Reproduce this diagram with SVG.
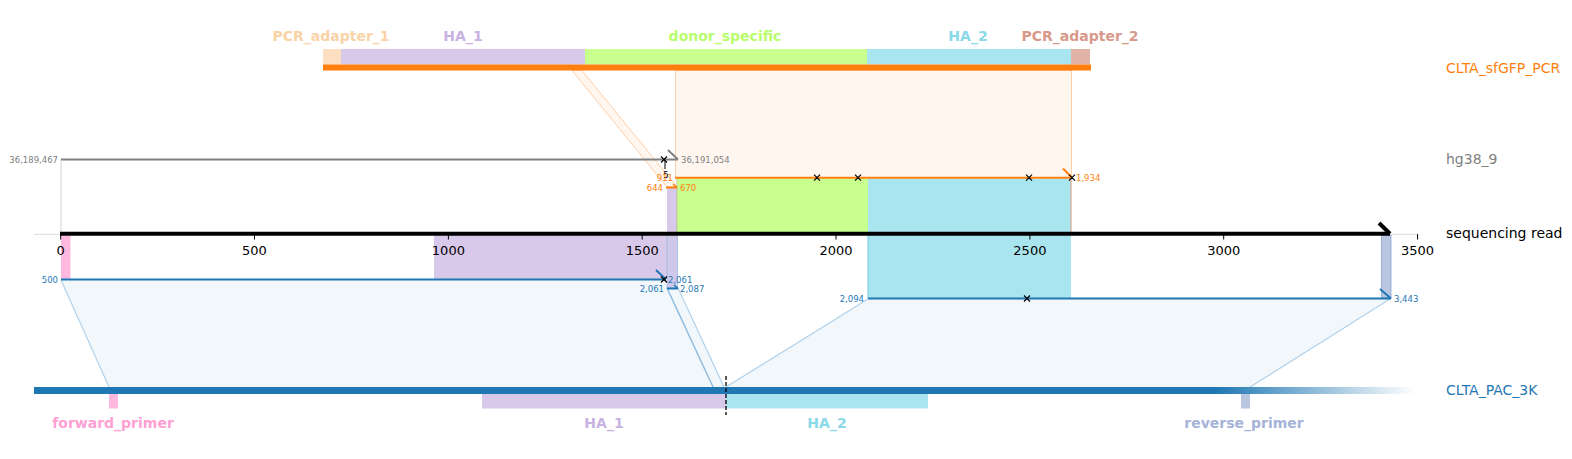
<svg xmlns="http://www.w3.org/2000/svg" width="1572" height="459" viewBox="0 0 1572 459">
<defs>
<style>
text{font-family:"DejaVu Sans","Liberation Sans",sans-serif}
.flab{font-size:14px;font-weight:bold;text-anchor:middle}
.rlab{font-size:14px}
.tick{font-size:13px;text-anchor:middle;fill:#000}
.sm{font-size:8.5px}
.xm{stroke:#000;stroke-width:1.2;fill:none}
.ofill{fill:#fff6ef;stroke:#ffcfa8;stroke-width:1}
.bfill{fill:#f2f7fb;stroke:none}
.bedge{stroke:#b2d2ea;stroke-width:1.2;fill:none}
</style>
<linearGradient id="fade" x1="34" y1="0" x2="1415" y2="0" gradientUnits="userSpaceOnUse">
<stop offset="0" stop-color="#1f77b4"/>
<stop offset="0.855" stop-color="#1f77b4"/>
<stop offset="1" stop-color="#1f77b4" stop-opacity="0"/>
</linearGradient>
</defs>
<rect width="1572" height="459" fill="#fff"/>

<g id="connectors">
<rect class="ofill" x="675.5" y="70.5" width="396" height="107"/>
<polygon class="ofill" points="572,70.5 582,70.5 677,187 667,187"/>
<polygon class="bfill" points="61,279.5 664,279.5 712,387 109,387"/>
<polygon class="bfill" points="667,288 678,288 724,387 713,387"/>
<polygon class="bfill" points="868,298.5 1390,298.5 1250,387 726,387"/>
<line class="bedge" x1="61" y1="280" x2="109" y2="387"/>
<line x1="667" y1="288" x2="713" y2="387" stroke="#8dbde0" stroke-width="1.5"/>
<line class="bedge" x1="678" y1="288" x2="724" y2="387"/>
<line class="bedge" x1="868" y1="299" x2="726" y2="387"/>
<line class="bedge" x1="1390" y1="299" x2="1250" y2="387"/>
<line x1="61" y1="159" x2="61" y2="233" stroke="#d4d4d4" stroke-width="1"/>
</g>

<g id="projected-features">
<rect x="677" y="178.5" width="191" height="54" fill="#c8ff8e"/>
<rect x="868" y="178.5" width="203" height="54" fill="#a9e5ef"/>
<rect x="667" y="188" width="10" height="44.5" fill="#d8c8ea"/>
<line x1="677" y1="178" x2="677" y2="233" stroke="#b9c98a" stroke-width="1"/>
<line x1="1071" y1="178" x2="1071" y2="233" stroke="#d9a890" stroke-width="1.2"/>
<rect x="61" y="235" width="9.5" height="44" fill="#ffb8de"/>
<rect x="434" y="235" width="233" height="44" fill="#d8c8ea"/>
<rect x="667" y="235" width="10.5" height="53" fill="#cfc8ea" stroke="#9ab8de" stroke-width="0.8"/>
<rect x="868" y="235" width="203" height="63" fill="#a9e5ef"/>
<line x1="868" y1="235" x2="868" y2="298" stroke="#7fc6e6" stroke-width="1"/>
<rect x="1381.5" y="235" width="9.5" height="63" fill="#bac5df" stroke="#8aa6d2" stroke-width="0.8"/>
</g>

<g id="CLTA_sfGFP_PCR">
<rect x="323" y="49" width="18" height="15.5" fill="#fbdfc0"/>
<rect x="341" y="49" width="244" height="15.5" fill="#d8c8ea"/>
<rect x="585" y="49" width="282" height="15.5" fill="#c8ff8e"/>
<rect x="867" y="49" width="204" height="15.5" fill="#a9e5ef"/>
<rect x="1071" y="49" width="19" height="15.5" fill="#e2b4a8"/>
<rect x="323" y="64.5" width="768" height="6" fill="#ff7f0e"/>
<text class="flab" x="331" y="41" fill="#f9d2a5">PCR_adapter_1</text>
<text class="flab" x="463" y="41" fill="#c8b2e2">HA_1</text>
<text class="flab" x="725" y="41" fill="#b8fd6c">donor_specific</text>
<text class="flab" x="968" y="41" fill="#8ad9e8">HA_2</text>
<text class="flab" x="1080" y="41" fill="#d8998a">PCR_adapter_2</text>
<text class="rlab" x="1446" y="73" fill="#ff7f0e">CLTA_sfGFP_PCR</text>
</g>

<g id="hg38_9">
<line x1="61" y1="159.5" x2="678" y2="159.5" stroke="#808080" stroke-width="2"/>
<line x1="668" y1="150" x2="678" y2="159.5" stroke="#808080" stroke-width="2"/>
<line x1="665" y1="159.5" x2="665" y2="169" stroke="#808080" stroke-width="2"/>
<path class="xm" d="M661,156.5 l6,6 M667,156.5 l-6,6"/>
<text class="sm" x="58" y="162.5" fill="#808080" text-anchor="end">36,189,467</text>
<text class="sm" x="681" y="162.5" fill="#808080">36,191,054</text>
<text class="sm" x="666" y="178" fill="#000" text-anchor="middle">5</text>
<text class="rlab" x="1446" y="164" fill="#808080">hg38_9</text>
</g>

<g id="alignment-sfGFP">
<line x1="675" y1="177.7" x2="1072" y2="177.7" stroke="#ff7f0e" stroke-width="2"/>
<line x1="1063" y1="168.5" x2="1072" y2="177.7" stroke="#ff7f0e" stroke-width="2"/>
<line x1="666" y1="187.5" x2="677" y2="187.5" stroke="#ff7f0e" stroke-width="2"/>
<line x1="673" y1="184" x2="677" y2="187.5" stroke="#ff7f0e" stroke-width="1.5"/>
<path class="xm" d="M814,174.7 l6,6 M820,174.7 l-6,6 M855,174.7 l6,6 M861,174.7 l-6,6 M1026,174.7 l6,6 M1032,174.7 l-6,6 M1069,174.7 l6,6 M1075,174.7 l-6,6"/>
<text class="sm" x="673" y="180.5" fill="#ff7f0e" text-anchor="end">911</text>
<text class="sm" x="663" y="190.5" fill="#ff7f0e" text-anchor="end">644</text>
<text class="sm" x="680" y="190.5" fill="#ff7f0e">670</text>
<text class="sm" x="1076" y="180.5" fill="#ff7f0e">1,934</text>
</g>

<g id="sequencing-read">
<line x1="34" y1="234.3" x2="1418" y2="234.3" stroke="#dcdcdc" stroke-width="1"/>
<line x1="60" y1="233.7" x2="1390" y2="233.7" stroke="#000" stroke-width="4"/>
<line x1="1379" y1="223" x2="1390" y2="233.7" stroke="#000" stroke-width="4"/>
<g stroke="#000" stroke-width="1">
<line x1="60.7" y1="235" x2="60.7" y2="239.5"/>
<line x1="254.5" y1="235" x2="254.5" y2="239.5"/>
<line x1="448.4" y1="235" x2="448.4" y2="239.5"/>
<line x1="642.2" y1="235" x2="642.2" y2="239.5"/>
<line x1="836" y1="235" x2="836" y2="239.5"/>
<line x1="1029.9" y1="235" x2="1029.9" y2="239.5"/>
<line x1="1223.7" y1="235" x2="1223.7" y2="239.5"/>
<line x1="1417.6" y1="234" x2="1417.6" y2="239.5"/>
</g>
<text class="tick" x="60.7" y="255">0</text>
<text class="tick" x="254.5" y="255">500</text>
<text class="tick" x="448.4" y="255">1000</text>
<text class="tick" x="642.2" y="255">1500</text>
<text class="tick" x="836" y="255">2000</text>
<text class="tick" x="1029.9" y="255">2500</text>
<text class="tick" x="1223.7" y="255">3000</text>
<text class="tick" x="1417.6" y="255">3500</text>
<text class="rlab" x="1446" y="238" fill="#000">sequencing read</text>
</g>

<g id="alignment-PAC">
<line x1="61" y1="279.5" x2="666" y2="279.5" stroke="#1f77b4" stroke-width="2"/>
<line x1="656" y1="270" x2="666" y2="279.5" stroke="#1f77b4" stroke-width="2"/>
<path class="xm" d="M661,276.5 l6,6 M667,276.5 l-6,6"/>
<line x1="667" y1="288.5" x2="678" y2="288.5" stroke="#1f77b4" stroke-width="2"/>
<line x1="674" y1="285" x2="678" y2="288.5" stroke="#1f77b4" stroke-width="1.5"/>
<line x1="868" y1="298.5" x2="1391" y2="298.5" stroke="#1f77b4" stroke-width="2"/>
<line x1="1380" y1="289" x2="1391" y2="298.5" stroke="#1f77b4" stroke-width="2"/>
<path class="xm" d="M1024,295.5 l6,6 M1030,295.5 l-6,6"/>
<text class="sm" x="58" y="282.5" fill="#1f77b4" text-anchor="end">500</text>
<text class="sm" x="668" y="282.5" fill="#1f77b4">2,061</text>
<text class="sm" x="664" y="291.5" fill="#1f77b4" text-anchor="end">2,061</text>
<text class="sm" x="680" y="291.5" fill="#1f77b4">2,087</text>
<text class="sm" x="864" y="301.5" fill="#1f77b4" text-anchor="end">2,094</text>
<text class="sm" x="1394" y="301.5" fill="#1f77b4">3,443</text>
</g>

<g id="CLTA_PAC_3K">
<rect x="34" y="387" width="1381" height="7" fill="url(#fade)"/>
<rect x="109" y="394" width="9" height="14.5" fill="#ffb8de"/>
<rect x="482" y="394" width="244" height="14.5" fill="#d8c8ea"/>
<rect x="726" y="394" width="202" height="14.5" fill="#a9e5ef"/>
<rect x="1241" y="394" width="9" height="14.5" fill="#bac5df"/>
<line x1="726" y1="376" x2="726" y2="415" stroke="#000" stroke-width="1.3" stroke-dasharray="4,2"/>
<text class="flab" x="113" y="428" fill="#ffa0d4">forward_primer</text>
<text class="flab" x="604" y="428" fill="#c8b2e2">HA_1</text>
<text class="flab" x="827" y="428" fill="#8ad9e8">HA_2</text>
<text class="flab" x="1244" y="428" fill="#a5b3d8">reverse_primer</text>
<text class="rlab" x="1446" y="395" fill="#1f77b4">CLTA_PAC_3K</text>
</g>
</svg>
